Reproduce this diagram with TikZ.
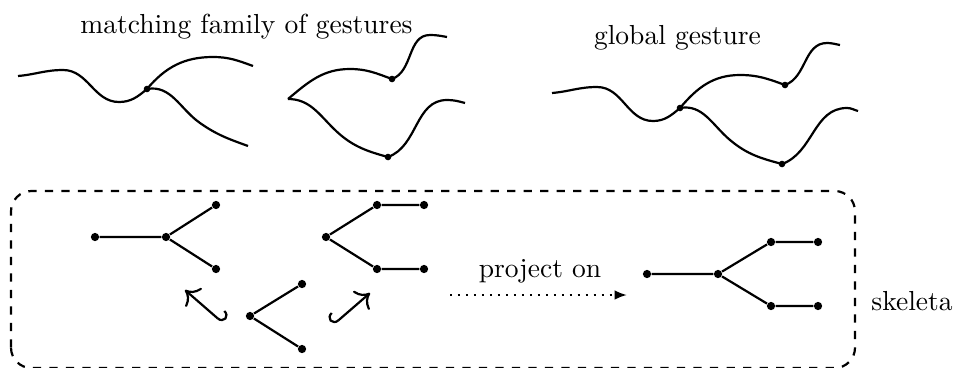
\documentclass[tikz,border=0pt]{standalone}
\usepackage{tikz}
\usetikzlibrary{arrows,arrows.meta,positioning}

\tikzset{
	vtx/.style={circle, fill, inner sep=0pt, minimum size=3pt},
	gdot/.style={circle, fill, inner sep=0pt, minimum size=2.4pt},
	gline/.style={line width=0.8pt},
	skel/.style={line width=0.8pt},
	linclu/.style={line width=0.8pt, {Hooks[left,length=2.5pt,width=8pt]}-{To[length=4.5pt,width=9pt]}},
	rinclu/.style={line width=0.8pt, {Hooks[right,length=2.5pt,width=8pt]}-{To[length=4.5pt,width=9pt]}},
}

\begin{document}
\begin{tikzpicture}[x=1.277mm, y=1.277mm]
		\useasboundingbox (0,0) rectangle (96.1,36.7);

		\node[anchor=base] (famtext) at (24.65,33.4) {matching family of gestures};
		\node[anchor=base] (globtext) at (67.75,32.3) {global gesture};

		% matching family
		\node[gdot] (j1) at (14.7,27.8) {};
		\draw[gline] (1.8,29.1) to[out=5,in=180] (6.3,29.7) to[out=0,in=180] (11.9,26.5) to[out=0,in=220] (j1.center);
		\draw[gline] (j1.center) to[out=50,in=180] (21.3,31.0) to[out=0,in=160] (25.3,30.1);
		\draw[gline] (j1.center) to[out=10,in=145] (20.0,24.4) to[out=-35,in=160] (24.8,22.1);

		\coordinate (c2) at (28.8,26.8);
		\node[gdot] (d2a) at (39.2,28.8) {};
		\node[gdot] (d2b) at (38.8,21.0) {};
		\draw[gline] (c2) to[out=40,in=180] (35.0,29.8) to[out=0,in=160] (d2a.center);
		\draw[gline] (d2a.center) to[out=20,in=180] (43.0,33.2) to[out=0,in=170] (44.7,33.0);
		\draw[gline] (c2) to[out=0,in=135] (33.3,23.9) to[out=-45,in=165] (d2b.center);
		\draw[gline] (d2b.center) to[out=20,in=180] (44.7,26.7) to[out=0,in=165] (46.5,26.4);

		% global gesture
		\node[gdot] (j3) at (68.0,25.9) {};
		\node[gdot] (d3a) at (78.5,28.2) {};
		\node[gdot] (d3b) at (78.2,20.3) {};
		\draw[gline] (55.2,27.4) to[out=5,in=180] (59.7,28.0) to[out=0,in=180] (65.3,24.6) to[out=0,in=220] (j3.center);
		\draw[gline] (j3.center) to[out=50,in=180] (74.0,29.2) to[out=0,in=160] (d3a.center);
		\draw[gline] (d3a.center) to[out=20,in=180] (82.7,32.4) to[out=0,in=170] (84.0,32.2);
		\draw[gline] (j3.center) to[out=10,in=140] (73.0,22.7) to[out=-40,in=165] (d3b.center);
		\draw[gline] (d3b.center) to[out=20,in=180] (84.7,25.9) to[out=0,in=165] (85.8,25.6);

		% skeleta
		\draw[dashed, line width=0.8pt, rounded corners=2.6mm] (1.1,-0.1) rectangle (85.5,17.6);
		\node[anchor=base] (skeltext) at (91.2,5.7) {skeleta};

		\node[vtx] (s1a) at (9.5,13.0) {};
		\node[vtx] (s1b) at (16.6,13.0) {};
		\node[vtx] (s1c) at (21.6,16.2) {};
		\node[vtx] (s1d) at (21.6,9.8) {};
		\draw[skel] (s1a) -- (s1b) -- (s1c);
		\draw[skel] (s1b) -- (s1d);

		\node[vtx] (s2b) at (32.6,13.0) {};
		\node[vtx] (s2c) at (37.7,16.2) {};
		\node[vtx] (s2d) at (37.7,9.8) {};
		\node[vtx] (s2e) at (42.4,16.2) {};
		\node[vtx] (s2f) at (42.4,9.8) {};
		\draw[skel] (s2e) -- (s2c) -- (s2b) -- (s2d) -- (s2f);

		\node[vtx] (s3b) at (25.0,5.1) {};
		\node[vtx] (s3c) at (30.2,8.3) {};
		\node[vtx] (s3d) at (30.2,1.8) {};
		\draw[skel] (s3c) -- (s3b) -- (s3d);

		\coordinate (hl1) at (22.3,4.4);
		\coordinate (hl2) at (18.5,7.7);
		\coordinate (hr1) at (33.3,4.2);
		\coordinate (hr2) at (37.0,7.4);
		\draw[linclu] (hl1) -- (hl2);
		\draw[rinclu] (hr1) -- (hr2);

		\coordinate (pa) at (45.0,7.2);
		\coordinate (pb) at (62.7,7.2);
		\draw[line width=0.8pt, dash pattern=on 0.8pt off 2.1pt, -{Latex[length=4.5pt,width=3.5pt]}] (pa) -- (pb);
		\node[anchor=base] (projtext) at (54.0,9.0) {project on};

		\node[vtx] (s4a) at (64.7,9.3) {};
		\node[vtx] (s4b) at (71.8,9.3) {};
		\node[vtx] (s4c) at (77.1,12.5) {};
		\node[vtx] (s4d) at (77.1,6.1) {};
		\node[vtx] (s4e) at (81.8,12.5) {};
		\node[vtx] (s4f) at (81.8,6.1) {};
		\draw[skel] (s4a) -- (s4b) -- (s4c) -- (s4e);
		\draw[skel] (s4b) -- (s4d) -- (s4f);
	\end{tikzpicture}
\end{document}
